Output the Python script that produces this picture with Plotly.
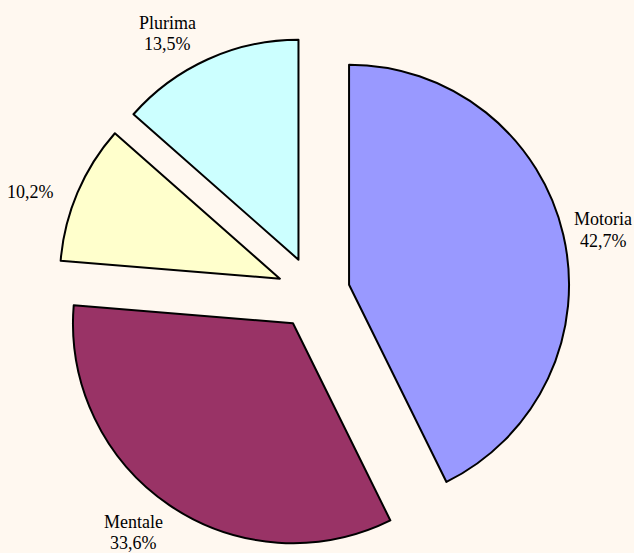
import plotly.graph_objects as go

# Tipologia di disabilità (quote percentuali)
categorie = ["Motoria", "Mentale", "Sensoriale", "Plurima"]
valori = [42.7, 33.6, 10.2, 13.5]
nomi_visibili = ["Motoria", "Mentale", "", "Plurima"]

colori = ["#9999FF", "#993366", "#FFFFCC", "#CCFFFF"]

W, H = 634, 553
# centro (x, y in pixel dall'alto) di ogni etichetta esterna
pos_etichette = [(603, 230), (133, 532), (30, 192), (167, 33)]
interlinea = 21

fig = go.Figure(
    go.Pie(
        labels=categorie,
        values=valori,
        sort=False,
        direction="clockwise",
        rotation=0,
        pull=[0.166] * len(valori),
        marker=dict(colors=colori, line=dict(color="black", width=2)),
        textinfo="none",
        showlegend=False,
        hoverinfo="label+percent",
        domain=dict(x=[57 / W, 570 / W], y=[3.5 / H, 516.5 / H]),
    )
)

totale = sum(valori)
font_et = dict(family="Liberation Serif", size=18, color="black")
for nome, v, (px, py) in zip(nomi_visibili, valori, pos_etichette):
    perc = f"{100 * v / totale:.1f}".replace(".", ",") + "%"
    righe = [nome, perc] if nome else [perc]
    y0 = py - interlinea * (len(righe) - 1) / 2
    for i, riga in enumerate(righe):
        fig.add_annotation(
            x=px / W,
            y=1 - (y0 + i * interlinea) / H,
            xref="paper",
            yref="paper",
            text=riga,
            showarrow=False,
            xanchor="center",
            yanchor="middle",
            font=font_et,
        )

fig.update_layout(
    width=W,
    height=H,
    margin=dict(l=0, r=0, t=0, b=0),
    paper_bgcolor="#FFF8F0",
    plot_bgcolor="#FFF8F0",
    separators=",.",
)

fig.write_html("out.html")
